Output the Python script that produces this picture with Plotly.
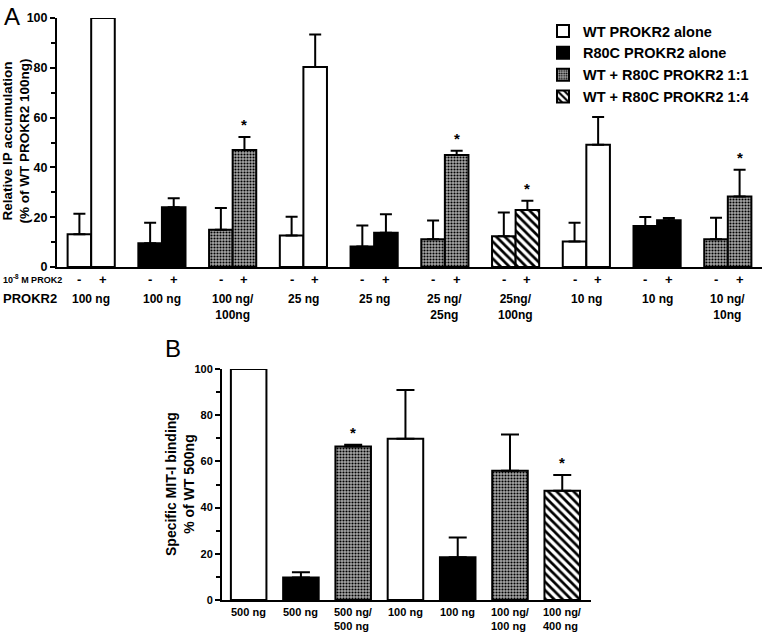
import plotly.graph_objects as go

# ---------------- data ----------------
# Panel A
A_groups = ["100 ng", "100 ng", "100 ng/<br>100ng", "25 ng", "25 ng", "25 ng/<br>25ng",
            "25ng/<br>100ng", "10 ng", "10 ng", "10 ng/<br>10ng"]
A_type = ["WT", "R80C", "1:1", "WT", "R80C", "1:1", "1:4", "WT", "R80C", "1:1"]
A_minus = [13.2, 9.5, 15.0, 12.7, 8.2, 11.1, 12.3, 10.2, 16.5, 11.1]
A_minus_sem = [8.2, 8.3, 8.7, 7.5, 8.5, 7.6, 9.6, 7.6, 3.6, 8.7]
A_plus = [100, 24.0, 47.0, 80.3, 13.8, 45.0, 22.9, 49.1, 18.8, 28.3]
A_plus_sem = [0, 3.6, 5.2, 13.1, 7.4, 1.7, 3.7, 11.1, 0.9, 10.8]
A_sig = [0, 0, 1, 0, 0, 1, 1, 0, 0, 1]

# Panel B
B_labels = ["500 ng", "500 ng", "500 ng/<br>500 ng", "100 ng", "100 ng",
            "100 ng/<br>100 ng", "100 ng/<br>400 ng"]
B_type = ["WT", "R80C", "1:1", "WT", "R80C", "1:1", "1:4"]
B_vals = [100, 9.7, 66.4, 69.8, 18.5, 56.0, 47.3]
B_sem = [0, 2.3, 0.8, 21.1, 8.6, 15.6, 6.8]
B_sig = [0, 0, 1, 0, 0, 0, 1]

series_names = {
    "WT": "WT PROKR2 alone",
    "R80C": "R80C PROKR2 alone",
    "1:1": "WT + R80C PROKR2 1:1",
    "1:4": "WT + R80C PROKR2 1:4",
}
series_order = ["WT", "R80C", "1:1", "1:4"]

# ---------------- styles ----------------
FONT = "Liberation Sans"
NARROW = "Liberation Sans Narrow, Liberation Sans"


def marker_for(t):
    base = dict(line=dict(color="black", width=2))
    if t == "WT":
        base["color"] = "white"
    elif t == "R80C":
        base["color"] = "black"
    elif t == "1:1":
        base["color"] = "#8a8a8a"
        base["pattern"] = dict(shape=".", size=3, solidity=0.4, fgcolor="black",
                               bgcolor="#a8a8a8", fillmode="replace")
    else:
        base["color"] = "white"
        base["pattern"] = dict(shape="\\", size=6, solidity=0.45, fgcolor="black",
                               bgcolor="white", fillmode="replace")
    return base


fig = go.Figure()

# ---------------- panel A bars ----------------
A_x_minus = [3 * i for i in range(len(A_groups))]
A_x_plus = [3 * i + 1 for i in range(len(A_groups))]

for t in series_order:
    xs, ys, es = [], [], []
    for i, tt in enumerate(A_type):
        if tt != t:
            continue
        xs += [A_x_minus[i], A_x_plus[i]]
        ys += [A_minus[i], A_plus[i]]
        es += [A_minus_sem[i] if A_minus_sem[i] > 0 else None,
               A_plus_sem[i] if A_plus_sem[i] > 0 else None]
    fig.add_trace(go.Bar(
        x=xs, y=ys, width=1, name=series_names[t], marker=marker_for(t),
        error_y=dict(type="data", symmetric=False, array=es,
                     arrayminus=[0] * len(es), color="black", thickness=2, width=6),
        xaxis="x", yaxis="y", showlegend=True,
    ))

# ---------------- panel B bars ----------------
for t in series_order:
    xs, ys, es = [], [], []
    for i, tt in enumerate(B_type):
        if tt != t:
            continue
        xs.append(i)
        ys.append(B_vals[i])
        es.append(B_sem[i] if B_sem[i] > 0 else None)
    fig.add_trace(go.Bar(
        x=xs, y=ys, width=0.68, name=series_names[t], marker=marker_for(t),
        error_y=dict(type="data", symmetric=False, array=es,
                     arrayminus=[0] * len(es), color="black", thickness=2, width=9),
        xaxis="x2", yaxis="y2", showlegend=False,
    ))

H = 632.0
W = 762.0


def py(px):
    return 1 - px / H


def pxx(px):
    return px / W


axis_common = dict(showline=True, linecolor="black", linewidth=2, showgrid=False,
                   zeroline=False, automargin=False)

fig.update_layout(
    width=762, height=632,
    margin=dict(l=0, r=0, t=0, b=0, autoexpand=False),
    paper_bgcolor="white", plot_bgcolor="white",
    barmode="overlay",
    font=dict(family=FONT, color="black"),
    xaxis=dict(domain=[pxx(57), 1.0], range=[-0.95, 28.95], showticklabels=False,
               ticks="", anchor="y", **axis_common),
    yaxis=dict(domain=[py(267), py(18)], range=[0, 100], tickvals=[0, 20, 40, 60, 80, 100],
               ticks="outside", ticklen=5, tickwidth=2, tickcolor="black",
               tickfont=dict(size=12.5, family=FONT, weight="bold"),
               minor=dict(dtick=10, ticks="outside", ticklen=4, tickwidth=2, tickcolor="black"),
               anchor="x", **axis_common),
    xaxis2=dict(domain=[pxx(222), pxx(591)], range=[-0.51, 6.55], showticklabels=False,
                ticks="", anchor="y2", **axis_common),
    yaxis2=dict(domain=[py(600), py(369)], range=[0, 100], tickvals=[0, 20, 40, 60, 80, 100],
                ticks="outside", ticklen=5, tickwidth=2, tickcolor="black",
                tickfont=dict(size=11, family=NARROW, weight="bold"),
                minor=dict(dtick=10, ticks="outside", ticklen=4, tickwidth=2, tickcolor="black"),
                anchor="x2", **axis_common),
    legend=dict(x=pxx(543), y=py(15), xanchor="left", yanchor="top",
                font=dict(size=14.5, family=FONT, weight="bold"),
                tracegroupgap=0, itemsizing="constant", bgcolor="rgba(0,0,0,0)",
                traceorder="normal"),
)

ann = []
# panel letters
ann.append(dict(text="A", x=pxx(2), y=py(1), xref="paper", yref="paper", xanchor="left",
                yanchor="top", showarrow=False, font=dict(size=24, family=FONT)))
ann.append(dict(text="B", x=pxx(163), y=py(333), xref="paper", yref="paper", xanchor="left",
                yanchor="top", showarrow=False, font=dict(size=24, family=FONT)))

# y titles
ann.append(dict(text="Relative IP accumulation<br>(% of WT PROKR2 100ng)", x=pxx(16.5), y=py(141),
                xref="paper", yref="paper", xanchor="center", yanchor="middle", textangle=-90,
                showarrow=False, font=dict(size=13.5, family=FONT, weight="bold")))
ann.append(dict(text="Specific MIT-I binding<br>% of WT 500ng", x=pxx(180), y=py(484),
                xref="paper", yref="paper", xanchor="center", yanchor="middle", textangle=-90,
                showarrow=False, font=dict(size=14, family=FONT, weight="bold")))

# row labels panel A
ann.append(dict(text="10<sup>-8</sup> M PROK2", x=pxx(1), y=py(279), xref="paper", yref="paper",
                xanchor="left", yanchor="middle", showarrow=False,
                font=dict(size=9, family=FONT, weight="bold")))
ann.append(dict(text="PROKR2", x=pxx(1), y=py(298), xref="paper", yref="paper",
                xanchor="left", yanchor="middle", showarrow=False,
                font=dict(size=13, family=FONT, weight="bold")))

for i, g in enumerate(A_groups):
    ann.append(dict(text="-", x=A_x_minus[i], y=py(279), xref="x", yref="paper",
                    yanchor="middle", showarrow=False, font=dict(size=13, family=FONT, weight="bold")))
    ann.append(dict(text="+", x=A_x_plus[i], y=py(279), xref="x", yref="paper",
                    yanchor="middle", showarrow=False, font=dict(size=13, family=FONT, weight="bold")))
    ann.append(dict(text=g, x=(A_x_minus[i] + A_x_plus[i]) / 2, y=py(290), xref="x", yref="paper",
                    yanchor="top", showarrow=False, align="center",
                    font=dict(size=12, family=FONT, weight="bold")))
    if A_sig[i]:
        top = A_plus[i] + A_plus_sem[i]
        ann.append(dict(text="*", x=A_x_plus[i], y=top, xref="x", yref="y", yanchor="bottom",
                        yshift=2, showarrow=False, font=dict(size=15, family=FONT, weight="bold")))

for i, g in enumerate(B_labels):
    ann.append(dict(text=g, x=i, y=py(604), xref="x2", yref="paper", yanchor="top",
                    showarrow=False, align="left",
                    font=dict(size=11, family=NARROW, weight="bold")))
    if B_sig[i]:
        top = B_vals[i] + B_sem[i]
        ann.append(dict(text="*", x=i, y=top, xref="x2", yref="y2", yanchor="bottom",
                        yshift=2, showarrow=False, font=dict(size=15, family=FONT, weight="bold")))

fig.update_layout(annotations=ann)
fig.write_html("out.html", post_script="document.body.style.margin='0px';",
               config={"displayModeBar": False})
